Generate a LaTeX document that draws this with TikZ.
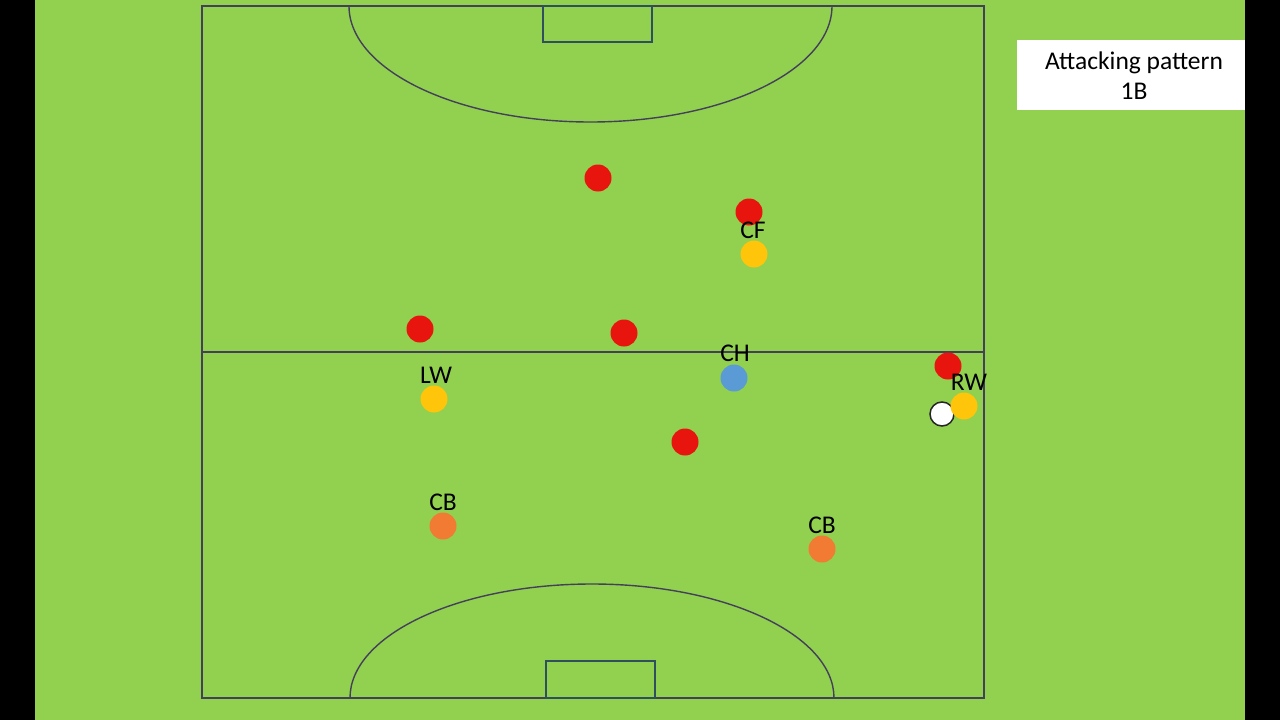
\documentclass[tikz,border=0pt]{standalone}
\usepackage{fontspec}
\setmainfont{Carlito}
\definecolor{pitch}{HTML}{92D050}
\definecolor{fline}{HTML}{44405A}
\definecolor{gline}{HTML}{2F4F5F}
\definecolor{redp}{HTML}{E8150F}
\definecolor{yelp}{HTML}{FFC50A}
\definecolor{bluep}{HTML}{5B9BD5}
\definecolor{orap}{HTML}{F27B33}
\tikzset{
  player/.style={circle,inner sep=0pt,minimum size=27pt,fill=#1,draw=none},
  ball/.style={circle,inner sep=0pt,minimum size=24pt,fill=white,draw=black!85,line width=1.5pt},
  lab/.style={font=\fontsize{25.5}{28}\selectfont,inner sep=0pt},
  field/.style={draw=fline,line width=1.4pt},
  goal/.style={draw=gline,line width=1.4pt}
}
\begin{document}
\begin{tikzpicture}[x=1pt,y=-1pt]
\useasboundingbox (0,0) rectangle (1280,720);
\fill[black] (0,0) rectangle (1280,720);
\fill[pitch] (35,0) rectangle (1245,720);
% field
\draw[field] (202,6) rectangle (984,698);
\draw[field] (202,352) -- (984,352);
\draw[field] (349,6) arc[start angle=180,end angle=360,x radius=241.5,y radius=-116];
\draw[field] (350,698) arc[start angle=180,end angle=0,x radius=242,y radius=-114];
\draw[goal] (543,6) rectangle (652,42);
\draw[goal] (546,661) rectangle (655,698);
% title box
\fill[white] (1017,40) rectangle (1245,110);
\node[align=center,inner sep=0pt,font=\fontsize{25.5}{30}\selectfont] (title) at (1134,76) {Attacking pattern\\1B};
% red players
\node[player=redp] (r1) at (598,178) {};
\node[player=redp] (r2) at (749,212) {};
\node[player=redp] (r3) at (420,329) {};
\node[player=redp] (r4) at (624,333) {};
\node[player=redp] (r5) at (948,366) {};
\node[player=redp] (r6) at (685,442) {};
% team
\node[player=yelp] (cf) at (754,254) {};
\node[lab] (cfl) at (753,230) {CF};
\node[player=bluep] (ch) at (734,378) {};
\node[lab] (chl) at (735,353) {CH};
\node[player=yelp] (lw) at (434,399) {};
\node[lab] (lwl) at (436,375) {LW};
\node[ball] (b) at (942,414) {};
\node[player=yelp] (rw) at (964,406) {};
\node[lab] (rwl) at (969,382) {RW};
\node[player=orap] (cb1) at (443,526) {};
\node[lab] (cb1l) at (443,502) {CB};
\node[player=orap] (cb2) at (822,549) {};
\node[lab] (cb2l) at (822,525) {CB};
\end{tikzpicture}
\end{document}
